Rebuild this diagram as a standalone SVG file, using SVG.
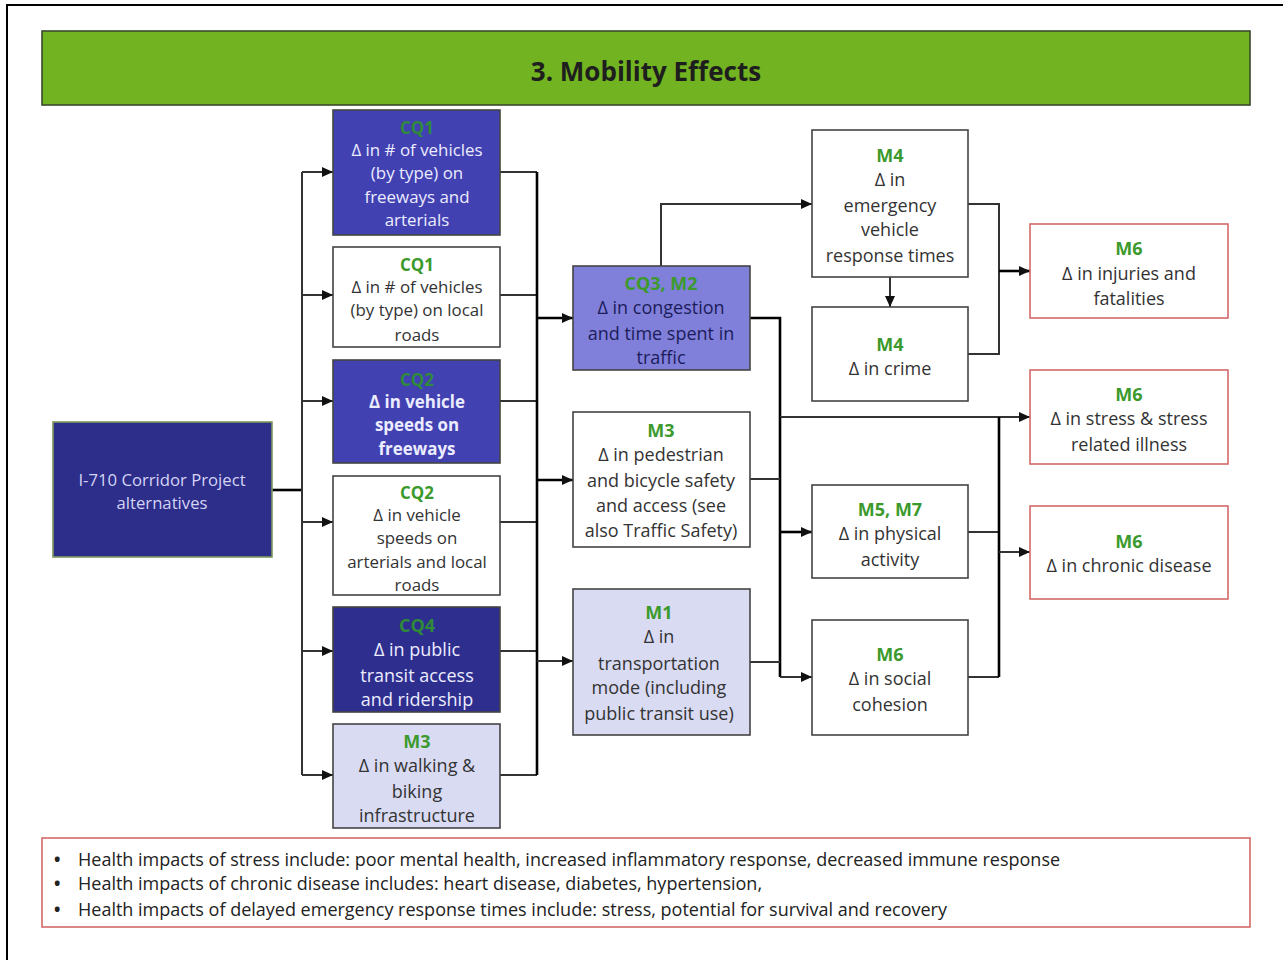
<svg xmlns="http://www.w3.org/2000/svg" width="1283" height="960" viewBox="0 0 1283 960">
<defs>
<marker id="arr" markerWidth="12" markerHeight="10" refX="11" refY="5" orient="auto" markerUnits="userSpaceOnUse">
<path d="M0,0 L11,5 L0,10 z" fill="#111"/>
</marker>
<style>
text{font-family:"Open Sans","Liberation Sans",sans-serif;text-anchor:middle;font-size:16.9px;}
.lg{font-size:18px;}
.box{stroke:#444;stroke-width:1.6;}
.red{fill:#fff;stroke:#d46a6a;stroke-width:1.6;}
.lbl{fill:#3c9a2c;font-weight:bold;}
.lbld{fill:#2f8a3a;font-weight:bold;}
.t{fill:#333;}
.tw{fill:#ececff;}
.tn{fill:#1c1c5a;}
.c{fill:none;stroke:#333;stroke-width:2;}
.cb{fill:none;stroke:#000;stroke-width:2.6;}
.note{text-anchor:start;fill:#222;font-size:18px;}
.bul{text-anchor:start;fill:#222;font-size:17px;font-weight:bold;}
</style>
</defs>
<rect x="0" y="0" width="1283" height="960" fill="#fff"/>
<rect x="7" y="5" width="1290" height="970" fill="none" stroke="#000" stroke-width="2"/>

<g id="header">
<rect x="42" y="31" width="1208" height="74" fill="#71b321" stroke="#3a4a2a" stroke-width="1.6"/>
<text x="646" y="81" style="font-size:26px;font-weight:bold;fill:#1e1e1e;">3. Mobility Effects</text>
</g>

<g id="connectors">
<path class="cb" d="M272,490 H302"/>
<path class="c" d="M302,172 V775"/>
<path class="c" d="M302,172 H333" marker-end="url(#arr)"/>
<path class="c" d="M302,295 H333" marker-end="url(#arr)"/>
<path class="c" d="M302,401 H333" marker-end="url(#arr)"/>
<path class="c" d="M302,522 H333" marker-end="url(#arr)"/>
<path class="c" d="M302,651 H333" marker-end="url(#arr)"/>
<path class="c" d="M302,775 H333" marker-end="url(#arr)"/>
<path class="c" d="M500,172 H537 M500,295 H537 M500,401 H537 M500,522 H537 M500,651 H537 M500,775 H537"/>
<path class="cb" d="M537,172 V775"/>
<path class="cb" d="M537,318 H573" marker-end="url(#arr)"/>
<path class="cb" d="M537,480 H573" marker-end="url(#arr)"/>
<path class="c" d="M537,661 H573" marker-end="url(#arr)"/>
<path class="c" d="M661,266 V204 H812" marker-end="url(#arr)"/>
<path class="cb" d="M750,318 H780 V417"/>
<path class="c" d="M780,417 H1030" marker-end="url(#arr)"/>
<path class="cb" d="M780,417 V677"/>
<path class="c" d="M750,479 H780 M750,662 H780"/>
<path class="cb" d="M780,532 H812" marker-end="url(#arr)"/>
<path class="c" d="M780,677 H812" marker-end="url(#arr)"/>
<path class="c" d="M890,277 V307" marker-end="url(#arr)"/>
<path class="c" d="M968,204 H999 V354 H968"/>
<path class="cb" d="M999,271 H1030" marker-end="url(#arr)"/>
<path class="c" d="M968,532 H999 M968,677 H999"/>
<path class="cb" d="M999,417 V677"/>
<path class="c" d="M999,552 H1030" marker-end="url(#arr)"/>
</g>

<g id="source">
<rect x="53" y="422" width="219" height="135" fill="#2d2d8a" stroke="#7d9a5a" stroke-width="1.6"/>
<text x="162" y="486" style="fill:#d4d4f4;font-size:16.7px;">I-710 Corridor Project</text>
<text x="162" y="509" style="fill:#d4d4f4;font-size:16.7px;">alternatives</text>
</g>

<g id="cq1a">
<rect class="box" x="333" y="110" width="167" height="125" fill="#4141b2"/>
<text class="lbld" x="417" y="134">CQ1</text>
<text class="tw" x="417" y="156">Δ in # of vehicles</text>
<text class="tw" x="417" y="179">(by type) on</text>
<text class="tw" x="417" y="203">freeways and</text>
<text class="tw" x="417" y="226">arterials</text>
</g>

<g id="cq1b">
<rect class="box" x="333" y="247" width="167" height="100" fill="#fff"/>
<text class="lbl" x="417" y="271">CQ1</text>
<text class="t" x="417" y="293">Δ in # of vehicles</text>
<text class="t" x="417" y="316">(by type) on local</text>
<text class="t" x="417" y="341">roads</text>
</g>

<g id="cq2a">
<rect class="box" x="333" y="360" width="167" height="103" fill="#4141b2"/>
<text class="lbld" x="417" y="386">CQ2</text>
<text class="tw" x="417" y="408" style="font-weight:bold;">Δ in vehicle</text>
<text class="tw" x="417" y="431" style="font-weight:bold;">speeds on</text>
<text class="tw" x="417" y="455" style="font-weight:bold;">freeways</text>
</g>

<g id="cq2b">
<rect class="box" x="333" y="476" width="167" height="119" fill="#fff"/>
<text class="lbl" x="417" y="499">CQ2</text>
<text class="t" x="417" y="521">Δ in vehicle</text>
<text class="t" x="417" y="544">speeds on</text>
<text class="t" x="417" y="568">arterials and local</text>
<text class="t" x="417" y="591">roads</text>
</g>

<g id="cq4">
<rect class="box" x="333" y="607" width="167" height="105" fill="#2e2e8e"/>
<text class="lbld lg" x="417" y="632">CQ4</text>
<text class="tw lg" x="417" y="656">Δ in public</text>
<text class="tw lg" x="417" y="682">transit access</text>
<text class="tw lg" x="417" y="706">and ridership</text>
</g>

<g id="m3a">
<rect class="box" x="333" y="724" width="167" height="104" fill="#d9dbf3"/>
<text class="lbl lg" x="417" y="748">M3</text>
<text class="t lg" x="417" y="772">Δ in walking &amp;</text>
<text class="t lg" x="417" y="798">biking</text>
<text class="t lg" x="417" y="822">infrastructure</text>
</g>

<g id="cq3m2">
<rect class="box" x="573" y="266" width="177" height="104" fill="#8080da"/>
<text class="lbl lg" x="661" y="290">CQ3, M2</text>
<text class="tn lg" x="661" y="314">Δ in congestion</text>
<text class="tn lg" x="661" y="340">and time spent in</text>
<text class="tn lg" x="661" y="364">traffic</text>
</g>

<g id="m3b">
<rect class="box" x="573" y="412" width="177" height="135" fill="#fff"/>
<text class="lbl lg" x="661" y="437">M3</text>
<text class="t lg" x="661" y="461">Δ in pedestrian</text>
<text class="t lg" x="661" y="487">and bicycle safety</text>
<text class="t lg" x="661" y="512">and access (see</text>
<text class="t lg" x="661" y="537">also Traffic Safety)</text>
</g>

<g id="m1">
<rect class="box" x="573" y="589" width="177" height="146" fill="#d9dbf3"/>
<text class="lbl lg" x="659" y="619">M1</text>
<text class="t lg" x="659" y="643">Δ in</text>
<text class="t lg" x="659" y="670">transportation</text>
<text class="t lg" x="659" y="694">mode (including</text>
<text class="t lg" x="659" y="720">public transit use)</text>
</g>

<g id="m4a">
<rect class="box" x="812" y="130" width="156" height="147" fill="#fff"/>
<text class="lbl lg" x="890" y="162">M4</text>
<text class="t lg" x="890" y="186">Δ in</text>
<text class="t lg" x="890" y="212">emergency</text>
<text class="t lg" x="890" y="236">vehicle</text>
<text class="t lg" x="890" y="262">response times</text>
</g>

<g id="m4b">
<rect class="box" x="812" y="307" width="156" height="94" fill="#fff"/>
<text class="lbl lg" x="890" y="351">M4</text>
<text class="t lg" x="890" y="375">Δ in crime</text>
</g>

<g id="m5m7">
<rect class="box" x="812" y="485" width="156" height="93" fill="#fff"/>
<text class="lbl lg" x="890" y="516">M5, M7</text>
<text class="t lg" x="890" y="540">Δ in physical</text>
<text class="t lg" x="890" y="566">activity</text>
</g>

<g id="m6social">
<rect class="box" x="812" y="620" width="156" height="115" fill="#fff"/>
<text class="lbl lg" x="890" y="661">M6</text>
<text class="t lg" x="890" y="685">Δ in social</text>
<text class="t lg" x="890" y="711">cohesion</text>
</g>

<g id="m6injuries">
<rect class="red" x="1030" y="224" width="198" height="94"/>
<text class="lbl lg" x="1129" y="255">M6</text>
<text class="t lg" x="1129" y="280">Δ in injuries and</text>
<text class="t lg" x="1129" y="305">fatalities</text>
</g>

<g id="m6stress">
<rect class="red" x="1030" y="370" width="198" height="94"/>
<text class="lbl lg" x="1129" y="401">M6</text>
<text class="t lg" x="1129" y="425">Δ in stress &amp; stress</text>
<text class="t lg" x="1129" y="451">related illness</text>
</g>

<g id="m6chronic">
<rect class="red" x="1030" y="506" width="198" height="93"/>
<text class="lbl lg" x="1129" y="548">M6</text>
<text class="t lg" x="1129" y="572">Δ in chronic disease</text>
</g>

<g id="notes">
<rect class="red" x="42" y="838" width="1208" height="89"/>
<text class="bul" x="54" y="866">•</text>
<text class="note" x="78" y="866">Health impacts of stress include: poor mental health, increased inflammatory response, decreased immune response</text>
<text class="bul" x="54" y="890">•</text>
<text class="note" x="78" y="890">Health impacts of chronic disease includes: heart disease, diabetes, hypertension,</text>
<text class="bul" x="54" y="916">•</text>
<text class="note" x="78" y="916">Health impacts of delayed emergency response times include: stress, potential for survival and recovery</text>
</g>
</svg>
